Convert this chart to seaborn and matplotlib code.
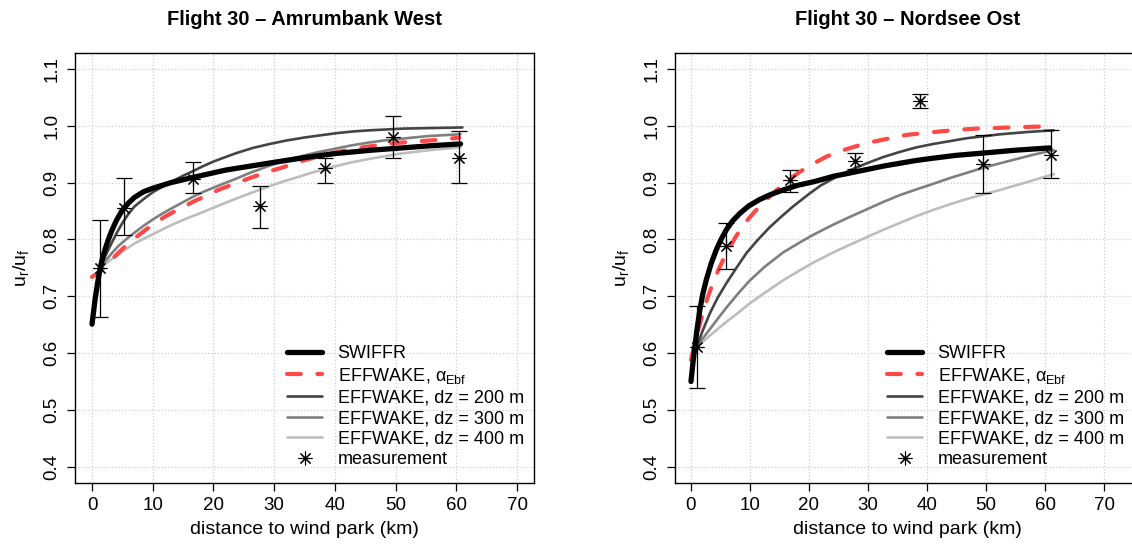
import numpy as np
import matplotlib
matplotlib.use("Agg")
import matplotlib.pyplot as plt
import seaborn as sns
from matplotlib.lines import Line2D

# --- Flight 30, Amrumbank West (links) ---
aw_meas_x = [1.3, 5.3, 16.6, 27.7, 38.4, 49.6, 60.5]
aw_meas_y = [0.749, 0.856, 0.906, 0.858, 0.925, 0.980, 0.944]
aw_meas_lo = [0.663, 0.807, 0.882, 0.820, 0.900, 0.943, 0.899]
aw_meas_hi = [0.835, 0.908, 0.937, 0.894, 0.944, 1.017, 0.991]

aw_swiffr_x = [0, 0.25, 0.5, 0.9, 1.3, 1.7, 2.2, 2.7, 3.2, 4, 4.9, 6, 7, 8.5, 10, 11.5, 13,
               15, 17, 19.5, 22, 25.5, 29, 32, 35, 40, 46, 51, 56, 60.7]
aw_swiffr_y = [0.651, 0.672, 0.694, 0.722, 0.747, 0.766, 0.784, 0.800, 0.814, 0.833, 0.850,
               0.864, 0.874, 0.884, 0.890, 0.895, 0.900, 0.905, 0.910, 0.916, 0.922, 0.928,
               0.934, 0.939, 0.944, 0.951, 0.957, 0.961, 0.965, 0.968]

aw_ebf_x = [0, 1.3, 2.8, 4.3, 6.2, 8.1, 10, 12, 14.4, 16.8, 19, 21, 23.5, 26, 28.7, 31.5,
            34.2, 37, 39.7, 42.5, 45.2, 48, 50.5, 53, 56.8, 60.5]
aw_ebf_y = [0.734, 0.743, 0.760, 0.776, 0.795, 0.811, 0.826, 0.840, 0.854, 0.867, 0.878,
            0.888, 0.898, 0.908, 0.918, 0.927, 0.937, 0.945, 0.952, 0.958, 0.963, 0.967,
            0.970, 0.972, 0.975, 0.979]

aw_dz200_x = [1.3, 2.2, 3.2, 4, 4.9, 6, 7, 8.5, 10, 11.5, 13, 15, 16.8, 18.3, 20, 22, 23.8,
              26.5, 29.3, 32, 34.8, 37.5, 40.3, 43, 45.8, 51.3, 56, 61]
aw_dz200_y = [0.749, 0.771, 0.793, 0.810, 0.827, 0.845, 0.858, 0.871, 0.883, 0.892, 0.901,
              0.912, 0.921, 0.929, 0.937, 0.945, 0.952, 0.961, 0.968, 0.974, 0.979, 0.983,
              0.987, 0.990, 0.992, 0.995, 0.996, 0.997]

aw_dz300_x = [1.3, 2.2, 3.2, 4.3, 5.6, 7, 8.5, 10, 11.5, 13, 14.9, 16.8, 18.4, 20, 21.6,
              23.3, 26, 28.8, 31.5, 34.3, 37, 39.8, 42.5, 45.3, 48, 50.8, 55.5, 60.7]
aw_dz300_y = [0.749, 0.762, 0.775, 0.788, 0.800, 0.812, 0.824, 0.835, 0.845, 0.854, 0.865,
              0.876, 0.884, 0.891, 0.898, 0.905, 0.917, 0.928, 0.938, 0.946, 0.953, 0.959,
              0.965, 0.970, 0.974, 0.977, 0.982, 0.985]

aw_dz400_x = [1.3, 2.2, 3.2, 4.3, 5.6, 7, 8.5, 10, 11.5, 13, 15.4, 17.8, 20.5, 23.3, 26,
              28.8, 31.5, 34.3, 37, 39.8, 42.5, 45.3, 48, 50.8, 55.5, 60.7]
aw_dz400_y = [0.749, 0.757, 0.765, 0.773, 0.783, 0.793, 0.801, 0.809, 0.817, 0.825, 0.836,
              0.846, 0.858, 0.870, 0.881, 0.892, 0.902, 0.911, 0.920, 0.928, 0.935, 0.941,
              0.946, 0.951, 0.957, 0.962]

# --- Flight 30, Nordsee Ost (rechts) ---
no_meas_x = [0.96, 5.9, 16.8, 27.8, 38.8, 49.5, 61.1]
no_meas_y = [0.611, 0.788, 0.905, 0.938, 1.043, 0.933, 0.949]
no_meas_lo = [0.539, 0.748, 0.884, 0.924, 1.031, 0.882, 0.908]
no_meas_hi = [0.683, 0.829, 0.923, 0.952, 1.055, 0.984, 0.992]

no_swiffr_x = [0, 0.3, 0.6, 1.0, 1.5, 2.0, 2.6, 3.4, 4.3, 5.1, 6, 7, 8.3, 9.8, 11.6, 13.5,
               15.6, 18, 21, 24.1, 27, 29.8, 32.6, 35.4, 38.2, 41.1, 45, 49.6, 55, 60.8]
no_swiffr_y = [0.550, 0.580, 0.606, 0.640, 0.676, 0.704, 0.729, 0.757, 0.782, 0.800, 0.817,
               0.832, 0.846, 0.859, 0.870, 0.879, 0.887, 0.895, 0.902, 0.911, 0.917, 0.923,
               0.929, 0.934, 0.939, 0.943, 0.948, 0.952, 0.957, 0.961]

no_ebf_x = [0, 0.9, 2.0, 2.8, 3.7, 4.8, 6.0, 7.6, 9.4, 10.8, 12.2, 14.2, 16.2, 18.3, 20.5,
            23, 25.8, 28.3, 30.9, 33.7, 36.6, 39.4, 42.2, 45.3, 48.4, 54.1, 60.3]
no_ebf_y = [0.588, 0.629, 0.670, 0.697, 0.723, 0.750, 0.776, 0.805, 0.832, 0.849, 0.864,
            0.884, 0.902, 0.918, 0.932, 0.946, 0.957, 0.965, 0.972, 0.978, 0.984, 0.987,
            0.990, 0.993, 0.995, 0.997, 0.999]

no_dz200_x = [0.96, 2, 3.2, 4.5, 6, 7.7, 9.4, 11.3, 13.3, 15.3, 17.3, 20, 22, 24.1, 27, 29.8,
              32.6, 35.4, 38.2, 41.1, 46.7, 52.4, 57, 61.5]
no_dz200_y = [0.611, 0.640, 0.670, 0.697, 0.723, 0.750, 0.776, 0.799, 0.821, 0.840, 0.858,
              0.880, 0.895, 0.907, 0.922, 0.934, 0.945, 0.954, 0.962, 0.968, 0.978, 0.985,
              0.989, 0.992]

no_dz300_x = [0.96, 2, 3.2, 4.5, 6, 8, 9.9, 12.5, 15.6, 18.5, 20.7, 24.1, 27, 29.8, 32.6,
              35.4, 38.2, 41.1, 43.9, 46.7, 49.5, 52.4, 55, 58, 61.5]
no_dz300_y = [0.611, 0.626, 0.642, 0.660, 0.680, 0.705, 0.727, 0.752, 0.777, 0.795, 0.808,
              0.826, 0.840, 0.853, 0.866, 0.878, 0.888, 0.898, 0.908, 0.917, 0.926, 0.934,
              0.941, 0.949, 0.957]

no_dz400_x = [0.96, 2, 3.2, 4.5, 6, 8, 9.9, 12.5, 15.6, 18.5, 20.7, 24.1, 27, 29.8, 32.6,
              35.4, 38.2, 41.1, 43.9, 46.7, 49.5, 52.4, 55, 58, 61.5]
no_dz400_y = [0.611, 0.620, 0.631, 0.642, 0.655, 0.671, 0.687, 0.706, 0.728, 0.746, 0.759,
              0.777, 0.791, 0.804, 0.817, 0.829, 0.841, 0.852, 0.862, 0.871, 0.879, 0.887,
              0.895, 0.904, 0.915]

titles = ["Flight 30 \u2013 Amrumbank West", "Flight 30 \u2013 Nordsee Ost"]
legend_labels = ["SWIFFR", "EFFWAKE, \u03b1$_{\\mathrm{Ebf}}$", "EFFWAKE, dz = 200 m",
                 "EFFWAKE, dz = 300 m", "EFFWAKE, dz = 400 m", "measurement"]

sns.set_theme(style="ticks")
plt.rcParams["font.family"] = ["Liberation Sans", "DejaVu Sans"]
plt.rcParams["mathtext.fontset"] = "custom"
plt.rcParams["mathtext.rm"] = "Liberation Sans"
plt.rcParams["mathtext.it"] = "Liberation Sans:italic"
plt.rcParams["text.color"] = "black"
plt.rcParams["axes.labelcolor"] = "black"

c_red = "#ff4848"
c_dz = ["#444444", "#7f7f7f", "#bdbdbd"]
star = (8, 2, 0)
red_dash = (3.3, 4.0)

W, H = 1132, 546
fig = plt.figure(figsize=(W / 100, H / 100), dpi=100)
ax1 = fig.add_axes([75 / W, 1 - 482.7 / H, 459 / W, 429.7 / H])
ax2 = fig.add_axes([675 / W, 1 - 482.7 / H, 465 / W, 429.7 / H])

panels = [
    (ax1, (-2.8, 72.8), aw_meas_x, aw_meas_y, aw_meas_lo, aw_meas_hi, aw_swiffr_x, aw_swiffr_y,
     aw_ebf_x, aw_ebf_y, [(aw_dz200_x, aw_dz200_y), (aw_dz300_x, aw_dz300_y), (aw_dz400_x, aw_dz400_y)]),
    (ax2, (-2.71, 76.1), no_meas_x, no_meas_y, no_meas_lo, no_meas_hi, no_swiffr_x, no_swiffr_y,
     no_ebf_x, no_ebf_y, [(no_dz200_x, no_dz200_y), (no_dz300_x, no_dz300_y), (no_dz400_x, no_dz400_y)]),
]

for i, (ax, xl, mx, my, mlo, mhi, sx, sy, ex, ey, dz) in enumerate(panels):
    # Hintergrund-Gitter (gepunktet)
    ax.set_xticks(np.arange(0, 71, 10))
    ax.set_yticks(np.round(np.arange(0.4, 1.11, 0.1), 1))
    ax.grid(True, linestyle=":", color="#cfcfcf", linewidth=0.9)
    ax.set_axisbelow(True)

    # EFFWAKE dz-Kurven
    for (dx, dy), col in reversed(list(zip(dz, c_dz))):
        sns.lineplot(x=dx, y=dy, ax=ax, color=col, linewidth=1.9, sort=False,
                     solid_capstyle="round", solid_joinstyle="round")
    # EFFWAKE alpha_Ebf (rot gestrichelt)
    sns.lineplot(x=ex, y=ey, ax=ax, color=c_red, linewidth=3.0, sort=False,
                 dashes=red_dash, dash_capstyle="round")
    # SWIFFR
    sns.lineplot(x=sx, y=sy, ax=ax, color="black", linewidth=3.8, sort=False,
                 solid_capstyle="round", solid_joinstyle="round")

    # Messwerte mit Fehlerbalken
    my_a = np.array(my)
    yerr = [my_a - np.array(mlo), np.array(mhi) - my_a]
    ax.errorbar(mx, my, yerr=yerr, fmt="none", ecolor="black", elinewidth=0.9,
                capsize=5.5, capthick=0.9)
    ax.plot(mx, my, linestyle="none", marker=star, markersize=10, mec="black",
            mew=0.8, color="black")

    ax.set_xlim(*xl)
    ax.set_ylim(0.372, 1.128)
    for sp in ax.spines.values():
        sp.set_color("black")
        sp.set_linewidth(1.0)
    ax.tick_params(axis="both", direction="out", length=5.5, width=0.9, color="black",
                   labelsize=13.5, labelcolor="black")
    ax.tick_params(axis="y", labelrotation=90, pad=5)
    ax.tick_params(axis="x", pad=5)
    for lab in ax.get_yticklabels():
        lab.set_va("center")
    ax.set_xlabel("distance to wind park (km)", fontsize=14, labelpad=5)
    ax.set_ylabel(r"$\mathrm{u_r/u_f}$", fontsize=14, labelpad=9)
    ax.set_title(titles[i], fontsize=14.5, fontweight="bold", pad=20, color="black")

    handles = [
        Line2D([], [], color="black", lw=3.8, solid_capstyle="round"),
        Line2D([], [], color=c_red, lw=3.0, dashes=red_dash, dash_capstyle="round"),
        Line2D([], [], color=c_dz[0], lw=1.9),
        Line2D([], [], color=c_dz[1], lw=1.9),
        Line2D([], [], color=c_dz[2], lw=1.9),
        Line2D([], [], linestyle="none", marker=star, markersize=10, mec="black", mew=0.8),
    ]
    fx = (287 - 75) / 459 if i == 0 else (887 - 675) / 465
    ax.legend(handles, legend_labels, loc="upper left", bbox_to_anchor=(fx, 0.32),
              frameon=False, borderpad=0, borderaxespad=0, handlelength=1.95,
              handletextpad=0.85, labelspacing=0.2, fontsize=13)

fig.savefig("out.png", dpi=100)
